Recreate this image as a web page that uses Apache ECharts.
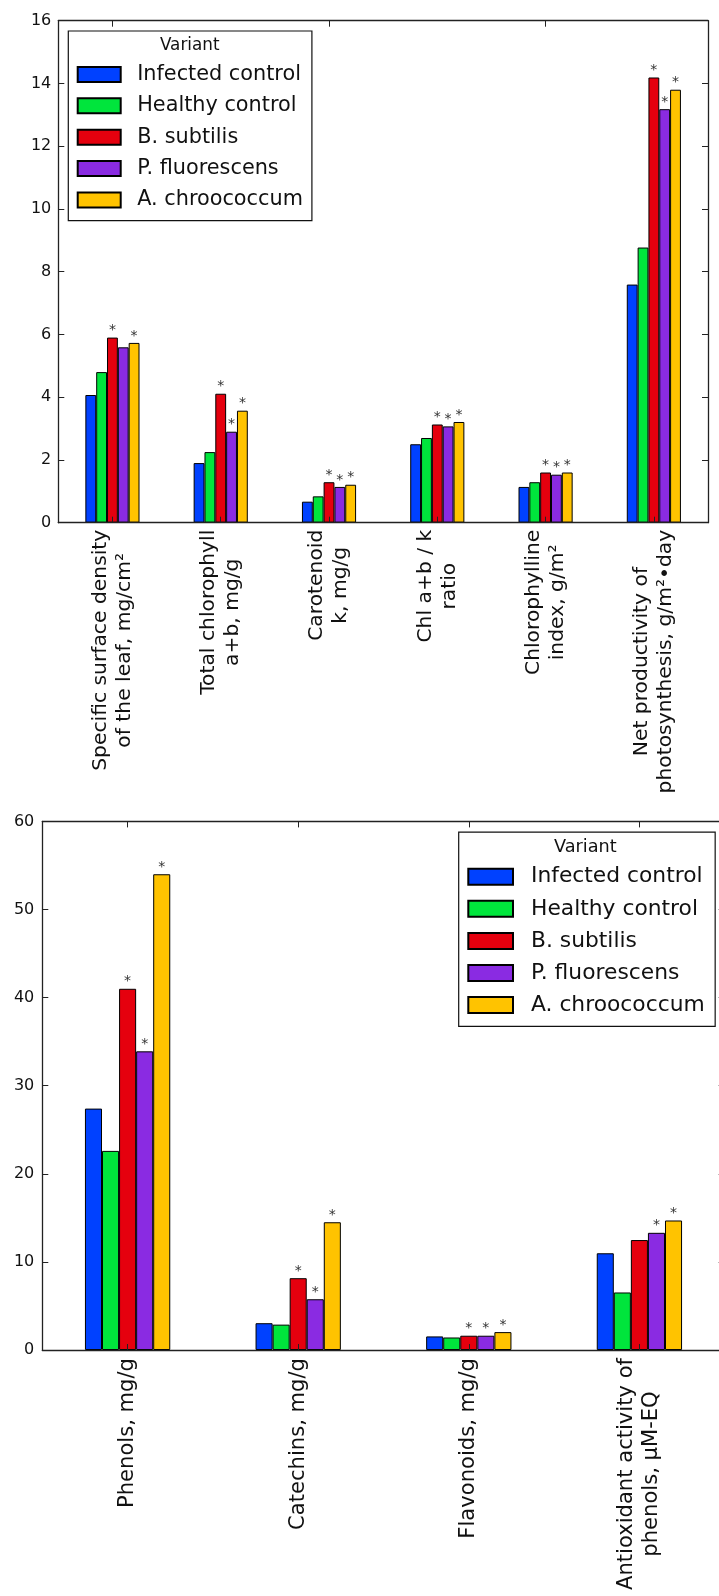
<!DOCTYPE html>
<html><head><meta charset="utf-8">
<script src="https://cdn.jsdelivr.net/npm/echarts@6/dist/echarts.min.js"></script>
<style>html,body{margin:0;padding:0;background:#fff}#c{width:719px;height:1596px}</style>
</head><body><div id="c"></div>
<script>
// ---------- data ----------
const variants = ['Infected control', 'Healthy control', 'B. subtilis', 'P. fluorescens', 'A. chroococcum'];

const cats1 = [
  'Specific surface density\nof the leaf, mg/cm²',
  'Total chlorophyll\na+b, mg/g',
  'Carotenoid\nk, mg/g',
  'Chl a+b / k\nratio',
  'Chlorophylline\nindex, g/m²',
  'Net productivity of\nphotosynthesis, g/m²•day'
];
const infected1 = [4.07, 1.90, 0.67, 2.50, 1.14, 7.59];
const healthy1  = [4.80, 2.25, 0.84, 2.70, 1.29, 8.77];
const subtilis1 = [5.90, 4.11, 1.29, 3.13, 1.60, 14.19];
const fluor1    = [5.59, 2.90, 1.14, 3.07, 1.53, 13.18];
const chroo1    = [5.73, 3.57, 1.21, 3.21, 1.60, 13.80];
// significance marks (*) per series
const sigInfected1 = [0, 0, 0, 0, 0, 0];
const sigHealthy1  = [0, 0, 0, 0, 0, 0];
const sigSubtilis1 = [1, 1, 1, 1, 1, 1];
const sigFluor1    = [0, 1, 1, 1, 1, 1];
const sigChroo1    = [1, 1, 1, 1, 1, 1];
const yTicks1 = { min: 0, max: 16, step: 2 };

const cats2 = [
  'Phenols, mg/g',
  'Catechins, mg/g',
  'Flavonoids, mg/g',
  'Antioxidant activity of\nphenols, μM-EQ'
];
const infected2 = [27.4, 3.04, 1.54, 10.98];
const healthy2  = [22.6, 2.88, 1.42, 6.53];
const subtilis2 = [41.0, 8.15, 1.62, 12.48];
const fluor2    = [33.9, 5.76, 1.62, 13.30];
const chroo2    = [54.0, 14.5, 2.03, 14.70];
const sigInfected2 = [0, 0, 0, 0];
const sigHealthy2  = [0, 0, 0, 0];
const sigSubtilis2 = [1, 1, 1, 0];
const sigFluor2    = [1, 1, 1, 1];
const sigChroo2    = [1, 1, 1, 1];
const yTicks2 = { min: 0, max: 60, step: 10 };

const legendTitle = 'Variant';

// ---------- styles ----------
const FONT = 'DejaVu Sans';
const colors = ['#0041ff', '#00e53c', '#e5000e', '#8a2be2', '#ffc300'];
const TXT = '#111';
const AX = '#222';

function centeredLines(v) {
  return v.split('\n').map(s => '{c|' + s + '}').join('\n');
}

function xAxes(gridIndex, cats, fontSize, lineHeight, margin) {
  const common = {
    gridIndex, type: 'category', data: cats, z: 5,
    axisLine: { show: true, onZero: false, lineStyle: { color: AX, width: 1.3 } },
    axisTick: { show: true, inside: true, alignWithLabel: true, length: 6, lineStyle: { color: AX, width: 1 } },
    splitLine: { show: false }
  };
  return [
    Object.assign({}, common, {
      position: 'bottom',
      axisLabel: {
        show: true, rotate: 90, interval: 0, margin, color: TXT,
        fontFamily: FONT, fontSize,
        formatter: centeredLines,
        rich: { c: { align: 'center', fontFamily: FONT, fontSize, lineHeight, color: TXT } }
      }
    }),
    Object.assign({}, common, { position: 'top', axisLabel: { show: false } })
  ];
}

function yAxes(gridIndex, t, margin) {
  const common = {
    gridIndex, type: 'value', min: t.min, max: t.max, interval: t.step, z: 5,
    axisLine: { show: true, onZero: false, lineStyle: { color: AX, width: 1.3 } },
    axisTick: { show: true, inside: true, length: 6, lineStyle: { color: AX, width: 1 } },
    splitLine: { show: false }
  };
  return [
    Object.assign({}, common, {
      position: 'left',
      axisLabel: { show: true, margin, color: TXT, fontFamily: FONT, fontSize: 16 }
    }),
    Object.assign({}, common, { position: 'right', axisLabel: { show: false } })
  ];
}

function barSeries(name, idx, values, sig, xi, yi) {
  return {
    name, type: 'bar', xAxisIndex: xi, yAxisIndex: yi,
    barGap: '0%', barCategoryGap: '50%',
    itemStyle: { color: colors[idx], borderColor: '#000', borderWidth: 1 },
    label: {
      show: false, position: 'top', distance: 0, formatter: '*',
      color: '#333', fontFamily: FONT, fontSize: 14
    },
    emphasis: { disabled: true },
    data: values.map((v, i) => sig[i] ? { value: v, label: { show: true } } : v)
  };
}

const set1 = [infected1, healthy1, subtilis1, fluor1, chroo1];
const sig1 = [sigInfected1, sigHealthy1, sigSubtilis1, sigFluor1, sigChroo1];
const set2 = [infected2, healthy2, subtilis2, fluor2, chroo2];
const sig2 = [sigInfected2, sigHealthy2, sigSubtilis2, sigFluor2, sigChroo2];

const series = [];
variants.forEach((n, i) => series.push(barSeries(n, i, set1[i], sig1[i], 0, 0)));
variants.forEach((n, i) => series.push(barSeries(n, i, set2[i], sig2[i], 2, 2)));

function legendCfg(left, top, fontSize, itemW, itemH, lineH, gap, pad, textPadL) {
  return {
    show: true, orient: 'vertical', left, top, data: variants,
    icon: 'rect', itemWidth: itemW, itemHeight: itemH, itemGap: gap,
    padding: pad, backgroundColor: '#fff', borderColor: '#111', borderWidth: 1.2,
    selectedMode: false,
    textStyle: { color: TXT, fontFamily: FONT, fontSize, lineHeight: lineH, padding: [0, 0, 0, textPadL] }
  };
}

const chart = echarts.init(document.getElementById('c'), null, { renderer: 'canvas' });
chart.setOption({
  animation: false,
  backgroundColor: '#fff',
  grid: [
    { left: 58.3, top: 20.7, width: 649.7, height: 502, outerBoundsMode: 'none', containLabel: false },
    { left: 42.3, top: 821.4, width: 682.4, height: 528.6, outerBoundsMode: 'none', containLabel: false }
  ],
  xAxis: [].concat(xAxes(0, cats1, 20.3, 24, 7), xAxes(1, cats2, 21.1, 25, 8)),
  yAxis: [].concat(yAxes(0, yTicks1, 7), yAxes(1, yTicks2, 8)),
  legend: [
    legendCfg(68.3, 31, 20.8, 43, 15, 20, 10.35, [33, 9, 10.3, 8.4], 11.5),
    legendCfg(458.7, 832.1, 21.8, 44.7, 16, 22, 10.05, [33.7, 10.5, 10.4, 8.6], 13)
  ],
  graphic: [
    { type: 'text', x: 189.7, y: 45.8, z: 100,
      style: { text: legendTitle, fill: TXT, font: '16.8px "DejaVu Sans"', textAlign: 'center', textVerticalAlign: 'middle' } },
    { type: 'text', x: 585.3, y: 847.1, z: 100,
      style: { text: legendTitle, fill: TXT, font: '17.7px "DejaVu Sans"', textAlign: 'center', textVerticalAlign: 'middle' } }
  ],
  series
});
</script>
</body></html>
